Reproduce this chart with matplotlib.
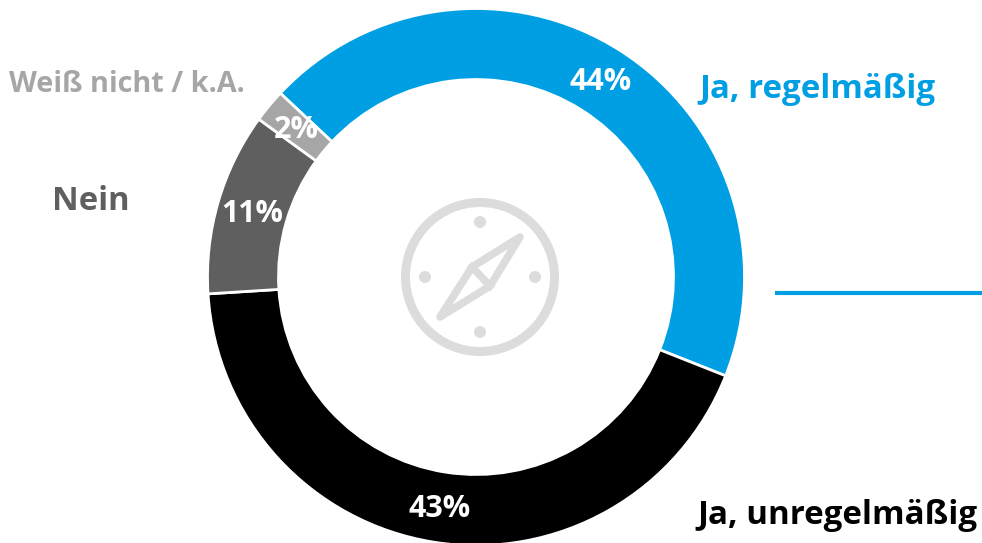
import numpy as np
import matplotlib
matplotlib.use('Agg')
import matplotlib.pyplot as plt
from matplotlib.patches import Circle, Polygon

W, H = 982, 543

labels = ['Ja, regelmäßig', 'Ja, unregelmäßig', 'Nein', 'Weiß nicht / k.A.']
values = [44, 43, 11, 2]
pct_labels = ['44%', '43%', '11%', '2%']
colors = ['#009fe3', '#000000', '#5f5f5f', '#a6a6a6']

plt.rcParams['font.family'] = ['Open Sans', 'DejaVu Sans']

fig = plt.figure(figsize=(W / 100, H / 100), dpi=100)
ax = fig.add_axes([0, 0, 1, 1])

cx, cy = 476, 277
R = 268.5
width = 71

# y axis is flipped below, so increasing angle runs clockwise on screen
wedges, _ = ax.pie(values, colors=colors, startangle=-136.8, counterclock=True,
                   radius=R, center=(cx, cy), frame=True,
                   wedgeprops=dict(width=width, edgecolor='white', linewidth=2))
ax.set_xlim(0, W)
ax.set_ylim(H, 0)
ax.set_aspect('auto')
ax.axis('off')

# percent labels placed mid ring
for w, s in zip(wedges, pct_labels):
    a = np.deg2rad((w.theta1 + w.theta2) / 2)
    r = R - width / 2
    ax.text(cx + r * np.cos(a), cy + r * np.sin(a) + 2, s, color='white', fontsize=22,
            fontweight='bold', ha='center', va='center')

# category labels
ax.text(699, 89, labels[0], color=colors[0], fontsize=23.8, fontweight='bold', va='center')
ax.text(697, 515, labels[1], color=colors[1], fontsize=23.9, fontweight='bold', va='center')
ax.text(52, 202, labels[2], color=colors[2], fontsize=23.6, fontweight='bold', va='center')
ax.text(9, 84, labels[3], color=colors[3], fontsize=20.8, fontweight='bold', va='center')

# rule on the right
ax.plot([775, 982], [293, 293], color=colors[0], lw=3, solid_capstyle='butt')

# compass icon
ic = '#dcdcdc'
ax.add_patch(Circle((480, 277), 74.5, fill=False, ec=ic, lw=6.5))
for dx, dy in [(0, -55), (0, 55), (-55, 0), (55, 0)]:
    ax.add_patch(Circle((480 + dx, 277 + dy), 6, color=ic, lw=0))
ax.add_patch(Polygon([(520, 237), (490, 286), (440, 317), (472, 267)], closed=True,
                     fc='none', ec=ic, lw=5.5, joinstyle='round'))
ax.plot([472, 490], [267, 286], color=ic, lw=5.5)

fig.savefig('out.png', dpi=100)
